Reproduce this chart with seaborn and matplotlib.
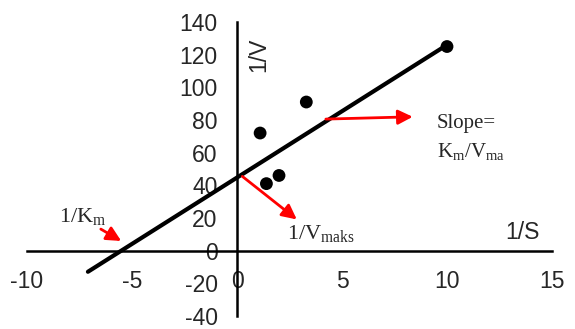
import seaborn as sns
import pandas as pd
import matplotlib.pyplot as plt

# data
inv_s = [1.1, 1.4, 2.0, 3.3, 10.0]
inv_v = [72, 41, 46, 91, 125]
line_x = [-7.1, 10.0]
line_y = [-13, 126]
x_ticks = [-10, -5, 0, 5, 10, 15]
y_ticks = [-40, -20, 0, 20, 40, 60, 80, 100, 120, 140]

sns.set_style("white")
plt.rcParams['font.family'] = ['Liberation Sans', 'DejaVu Sans']
plt.rcParams['axes.unicode_minus'] = False

df = pd.DataFrame({'x': inv_s, 'y': inv_v})
df_line = pd.DataFrame({'x': line_x, 'y': line_y})

fig = plt.figure(figsize=(5.75, 3.29), dpi=100)
ax = fig.add_axes([0.047, 0.040, 0.913, 0.893])

sns.lineplot(data=df_line, x='x', y='y', color='black', lw=3, ax=ax)
sns.scatterplot(data=df, x='x', y='y', color='black', s=85, edgecolor='none', ax=ax, zorder=3)

ax.set_xlim(-10, 15)
ax.set_ylim(-40, 140)
ax.set_xticks(x_ticks)
ax.set_yticks(y_ticks)
ax.set_xlabel('')
ax.set_ylabel('')
for side in ['top', 'right']:
    ax.spines[side].set_visible(False)
for side in ['left', 'bottom']:
    ax.spines[side].set_position(('data', 0))
    ax.spines[side].set_color('black')
    ax.spines[side].set_linewidth(1.8)
ax.tick_params(length=0, labelsize=16.5, pad=14)

# axis titles
ax.text(14.4, 7, '1/S', fontsize=16.5, ha='right', va='baseline')
ax.text(1.05, 120, '1/V', fontsize=16.5, rotation=90, ha='center', va='center')

# red arrows and serif labels
arrow = dict(arrowstyle='-|>', color='red', lw=2, mutation_scale=22)
serif = ['Liberation Serif', 'DejaVu Serif']
ax.annotate('', xy=(-5.4, 5), xytext=(-6.6, 14), arrowprops=arrow)
ax.text(-8.5, 17, '1/K$_\\mathregular{m}$', fontsize=16, family=serif)
ax.annotate('', xy=(2.95, 18), xytext=(0.15, 46.5), arrowprops=arrow)
ax.text(2.4, 7, '1/V$_\\mathregular{maks}$', fontsize=16, family=serif)
ax.annotate('', xy=(8.5, 82), xytext=(4.1, 80.5), arrowprops=arrow)
ax.text(9.5, 75, 'Slope=', fontsize=15, family=serif)
ax.text(9.5, 57, 'K$_\\mathregular{m}$/V$_\\mathregular{ma}$', fontsize=15, family=serif)

plt.savefig('out.png')
